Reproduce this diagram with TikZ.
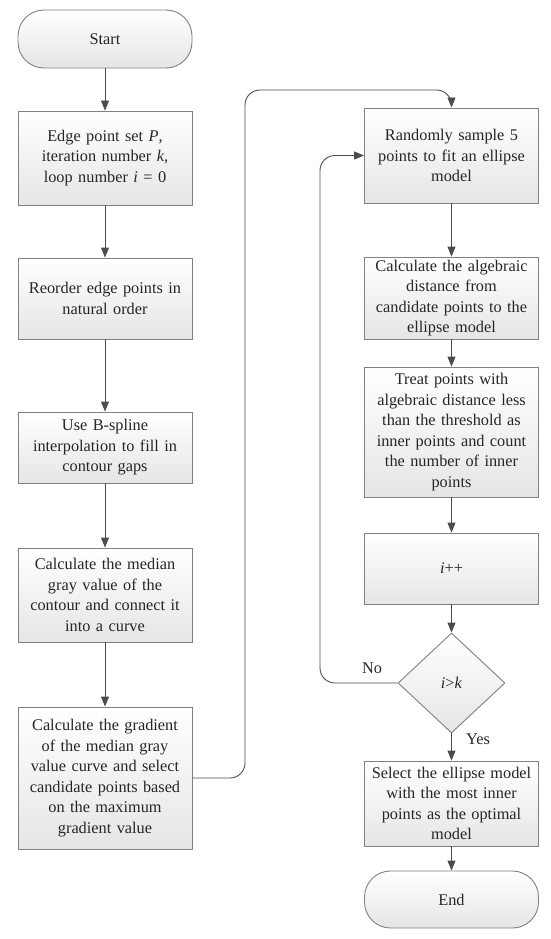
\documentclass[tikz,border=0pt]{standalone}
\usepackage{fontspec}
\setmainfont{Liberation Serif}
\usetikzlibrary{arrows.meta,shapes.geometric}
\begin{document}
\begin{tikzpicture}[x=1pt,y=-1pt,
  every node/.style={font=\fontsize{16.3}{20.5}\selectfont, text=black!85},
  base/.style={draw=black!50, line width=0.9pt, top color=white, bottom color=black!10, align=center, text width=168pt, minimum width=174pt, inner sep=2pt},
  procbox/.style={base, rectangle},
  termbox/.style={base, rounded corners=26pt},
  decbox/.style={draw=black!50, line width=0.9pt, top color=white, bottom color=black!10, diamond, minimum width=107pt, minimum height=100pt, inner sep=0pt},
  conn/.style={draw=black!70, line width=0.9pt, -{Triangle[length=10pt,width=8pt]}, rounded corners=15pt},
  lbl/.style={font=\fontsize{16.3}{17}\selectfont}
]
\useasboundingbox (0,0) rectangle (550,939);
% left column
\node[termbox, minimum height=58pt] (start) at (105,39) {Start};
\node[procbox, minimum height=94pt] (b1) at (105,158) {Edge point set \textit{P},\\ iteration number \textit{k},\\ loop number \textit{i} = 0};
\node[procbox, minimum height=81pt] (b2) at (105,298.5) {Reorder edge points in\\ natural order};
\node[procbox, minimum height=71pt] (b3) at (105,447.5) {Use B-spline\\ interpolation to fill in\\ contour gaps};
\node[procbox, minimum height=94pt] (b4) at (105,595) {Calculate the median\\ gray value of the\\ contour and connect it\\ into a curve};
\node[procbox, minimum height=142pt] (b5) at (105,778) {Calculate the gradient\\ of the median gray\\ value curve and select\\ candidate points based\\ on the maximum\\ gradient value};
% right column
\node[procbox, minimum height=95pt] (r1) at (451.5,155.5) {Randomly sample 5\\ points to fit an ellipse\\ model};
\node[procbox, minimum height=82pt] (r2) at (451.5,298) {Calculate the algebraic\\ distance from\\ candidate points to the\\ ellipse model};
\node[procbox, minimum height=130pt] (r3) at (451.5,432) {Treat points with\\ algebraic distance less\\ than the threshold as\\ inner points and count\\ the number of inner\\ points};
\node[procbox, minimum height=71pt] (r4) at (451.5,568.5) {\textit{i}++};
\node[decbox] (d) at (451.5,683) {\textit{i}>\textit{k}};
\node[procbox, minimum height=85pt] (r5) at (451.5,803.5) {Select the ellipse model\\ with the most inner\\ points as the optimal\\ model};
\node[termbox, minimum height=57pt] (end) at (451.5,899.5) {End};
% connectors
\draw[conn] (start) -- (b1);
\draw[conn] (b1) -- (b2);
\draw[conn] (b2) -- (b3);
\draw[conn] (b3) -- (b4);
\draw[conn] (b4) -- (b5);
\coordinate (up) at (245,90);
\draw[conn] (b5.east) -| (up) -| (r1.north);
\draw[conn] (r1) -- (r2);
\draw[conn] (r2) -- (r3);
\draw[conn] (r3) -- (r4);
\draw[conn] (r4) -- (d);
\coordinate (loopc) at (320,155.5);
\draw[conn] (d.west) -| (loopc) -- (r1.west);
\draw[conn] (d.south) -- (r5);
\draw[conn] (r5) -- (end);
\node[lbl] (no) at (372,668) {No};
\node[lbl] (yes) at (478,739) {Yes};
\end{tikzpicture}
\end{document}
